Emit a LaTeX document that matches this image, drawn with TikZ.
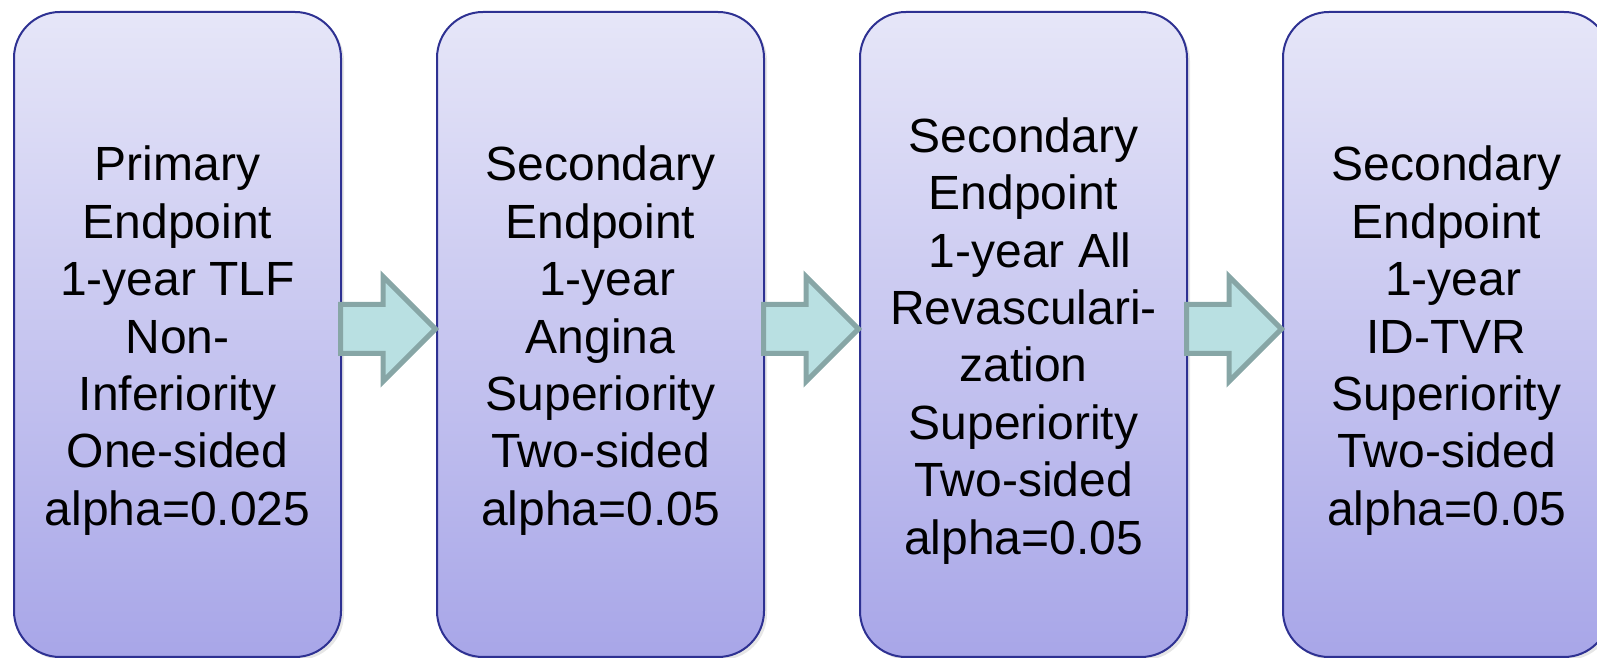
\documentclass[tikz,border=0pt]{standalone}
\usepackage{fontspec}
\setmainfont{Liberation Sans}
\usetikzlibrary{shapes.arrows,shadows,calc}

\definecolor{boxtop}{RGB}{230,230,248}
\definecolor{boxbottom}{RGB}{168,166,232}
\definecolor{boxline}{RGB}{46,49,146}
\definecolor{arrowfill}{RGB}{185,224,226}
\definecolor{arrowline}{RGB}{135,166,166}

\newcommand{\topstrut}{\rule{0pt}{23.6pt}}

\tikzstyle{block} = [draw = boxline, line width = 1pt, top color = boxtop, bottom color = boxbottom, rounded corners = 23pt, minimum width = 163.5pt, minimum height = 322.5pt, align = center, text centered, font = \fontsize{24}{28.7}\selectfont, drop shadow = {shadow xshift = 1.5pt, shadow yshift = -1.5pt, opacity = 0.2}]
\tikzstyle{flow} = [single arrow, draw = arrowline, fill = arrowfill, line width = 2.5pt, inner xsep = 0pt, inner ysep = 11pt, minimum height = 47.5pt, single arrow head extend = 14pt, anchor = tail]

\begin{document}
\begin{tikzpicture}[x = 0.5pt, y = 0.5pt]
		\useasboundingbox (0, 0) rectangle (1597, 658);

		\node [block] at (177.5, 323.5) (1) {\topstrut Primary\\Endpoint\\1-year TLF\\Non-\\Inferiority\\One-sided\\alpha=0.025};
		\node [block] at (600.5, 323.5) (2) {\topstrut Secondary\\Endpoint\\~1-year\\Angina\\Superiority\\Two-sided\\alpha=0.05};
		\node [block] at (1023.5, 323.5) (3) {\topstrut Secondary\\Endpoint\\~1-year All\\Revasculari-\\zation\\Superiority\\Two-sided\\alpha=0.05};
		\node [block] at (1446.5, 323.5) (4) {\topstrut Secondary\\Endpoint\\~1-year\\ID-TVR\\Superiority\\Two-sided\\alpha=0.05};

		\node [flow] at ($(1.east) + (-4, 5.5)$) (5) {};
		\node [flow] at ($(2.east) + (-4, 5.5)$) (6) {};
		\node [flow] at ($(3.east) + (-4, 5.5)$) (7) {};
	\end{tikzpicture}
\end{document}
